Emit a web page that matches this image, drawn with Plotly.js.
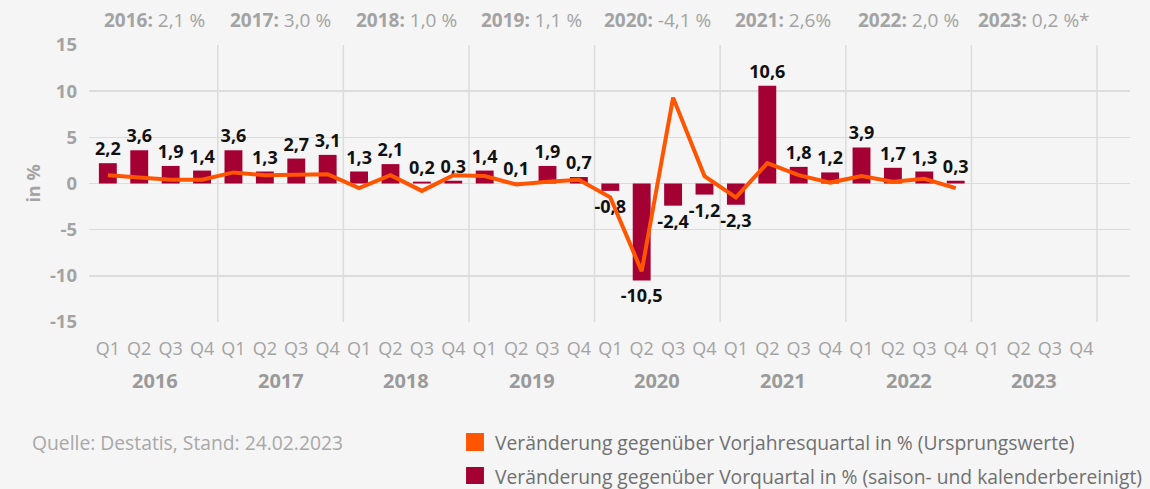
<!DOCTYPE html>
<html>
<head>
<meta charset="utf-8">
<script src="https://cdn.plot.ly/plotly-3.0.1.min.js"></script>
<style>
  html, body { margin: 0; padding: 0; background: #f5f5f5; }
  #chart { width: 1150px; height: 489px; }
</style>
</head>
<body>
<div id="chart"></div>
<script>
// ---- Data ----
const years = ['2016', '2017', '2018', '2019', '2020', '2021', '2022', '2023'];
const quarters = ['Q1', 'Q2', 'Q3', 'Q4'];
const yearGrowth = ['2,1 %', '3,0 %', '1,0 %', '1,1 %', '-4,1 %', '2,6%', '2,0 %', '0,2 %*'];
const yTicks = [-15, -10, -5, 0, 5, 10, 15];

// Veränderung gegenüber Vorquartal in % (saison- und kalenderbereinigt)
const qoq = [2.2, 3.6, 1.9, 1.4,
             3.6, 1.3, 2.7, 3.1,
             1.3, 2.1, 0.2, 0.3,
             1.4, 0.1, 1.9, 0.7,
             -0.8, -10.5, -2.4, -1.2,
             -2.3, 10.6, 1.8, 1.2,
             3.9, 1.7, 1.3, 0.3];

// Veränderung gegenüber Vorjahresquartal in % (Ursprungswerte)
const yoy = [0.9, 0.6, 0.4, 0.4,
             1.2, 0.9, 0.9, 1.0,
             -0.5, 0.9, -0.8, 0.9,
             0.8, -0.1, 0.2, 0.4,
             -1.5, -9.5, 9.3, 0.8,
             -1.5, 2.2, 0.9, 0.1,
             0.8, 0.2, 0.5, -0.5];

const source = 'Quelle: Destatis, Stand: 24.02.2023';
const legendYoY = 'Veränderung gegenüber Vorjahresquartal in % (Ursprungswerte)';
const legendQoQ = 'Veränderung gegenüber Vorquartal in % (saison- und kalenderbereinigt)';

// ---- Derived ----
const catLabels = [];
const catIdx = [];
years.forEach((y, yi) => quarters.forEach((q, qi) => { catLabels.push(q); catIdx.push(yi * 4 + qi); }));
const xBars = qoq.map((_, i) => i);
const xLine = yoy.map((_, i) => i);
const fmt = v => v.toFixed(1).replace('.', ',');

const FONT = 'Open Sans, Noto Sans, sans-serif';
const BAR = '#a50034';
const LINE = '#ff5500';
const GRID = '#dcdcdc';
const GREY = '#a3a3a3';

const traces = [
  {
    type: 'bar', x: xBars, y: qoq,
    marker: { color: BAR },
    text: qoq.map(fmt), textposition: 'outside', cliponaxis: false,
    constraintext: 'none',
    textfont: { family: FONT, size: 18, color: '#111111', weight: 'bold' },
    hoverinfo: 'y', showlegend: false
  },
  {
    type: 'scatter', mode: 'lines', x: xLine, y: yoy,
    line: { color: LINE, width: 4, shape: 'linear' },
    hoverinfo: 'y', showlegend: false
  }
];

const shapes = [];
years.forEach((y, yi) => {
  const b = yi * 4 + 3.5;
  shapes.push({ type: 'line', xref: 'x', yref: 'y', x0: b, x1: b, y0: -15, y1: 15,
                line: { color: GRID, width: 1.5 }, layer: 'below' });
});
// legend swatches
shapes.push({ type: 'rect', xref: 'paper', yref: 'paper', x0: 0.3622, x1: 0.3794, y0: -0.4657, y1: -0.4007,
              fillcolor: LINE, line: { width: 0 } });
shapes.push({ type: 'rect', xref: 'paper', yref: 'paper', x0: 0.3622, x1: 0.3794, y0: -0.5848, y1: -0.5235,
              fillcolor: BAR, line: { width: 0 } });

const annotations = [];
years.forEach((y, yi) => {
  const c = yi * 4 + 1.5;
  annotations.push({ xref: 'x', yref: 'paper', x: c, y: 1.09, showarrow: false,
    text: '<b>' + y + ':</b> ' + yearGrowth[yi],
    font: { family: FONT, size: 19, color: GREY }, xanchor: 'center', yanchor: 'middle' });
  annotations.push({ xref: 'x', yref: 'paper', x: c, y: -0.2094, showarrow: false,
    text: '<b>' + y + '</b>',
    font: { family: FONT, size: 20, color: '#9a9a9a' }, xanchor: 'center', yanchor: 'middle' });
});
annotations.push({ xref: 'paper', yref: 'paper', x: -0.0567, y: -0.4368, showarrow: false, text: source,
  font: { family: FONT, size: 19.3, color: '#a8a8a8' }, xanchor: 'left', yanchor: 'middle' });
annotations.push({ xref: 'paper', yref: 'paper', x: 0.388, y: -0.4368, showarrow: false, text: legendYoY,
  font: { family: FONT, size: 19.3, color: '#707070' }, xanchor: 'left', yanchor: 'middle' });
annotations.push({ xref: 'paper', yref: 'paper', x: 0.388, y: -0.5585, showarrow: false, text: legendQoQ,
  font: { family: FONT, size: 19.3, color: '#707070' }, xanchor: 'left', yanchor: 'middle' });

const layout = {
  width: 1150, height: 489,
  paper_bgcolor: '#f5f5f5', plot_bgcolor: '#f5f5f5',
  margin: { l: 89, r: 20, t: 45, b: 167 },
  font: { family: FONT, color: GREY },
  bargap: 0.43,
  showlegend: false,
  xaxis: {
    range: [-0.6, 32.55], tickmode: 'array', tickvals: catIdx, ticktext: catLabels,
    showgrid: false, zeroline: false, showline: false, ticks: '',
    tickfont: { family: FONT, size: 18, color: GREY },
    ticklabelstandoff: 14, fixedrange: true
  },
  yaxis: {
    range: [-15, 15], tickmode: 'array', tickvals: yTicks, ticktext: yTicks.map(String),
    showgrid: true, gridcolor: GRID, gridwidth: 1.5,
    zeroline: true, zerolinecolor: GRID, zerolinewidth: 1.5, showline: false, ticks: '',
    tickfont: { family: FONT, size: 18.5, color: GREY, weight: 'bold' },
    ticklabelstandoff: 11,
    title: { text: '<b>in %</b>', font: { family: FONT, size: 18, color: GREY }, standoff: 4 },
    fixedrange: true
  },
  shapes: shapes,
  annotations: annotations
};

Plotly.newPlot('chart', traces, layout, { displayModeBar: false, staticPlot: true });
</script>
</body>
</html>
